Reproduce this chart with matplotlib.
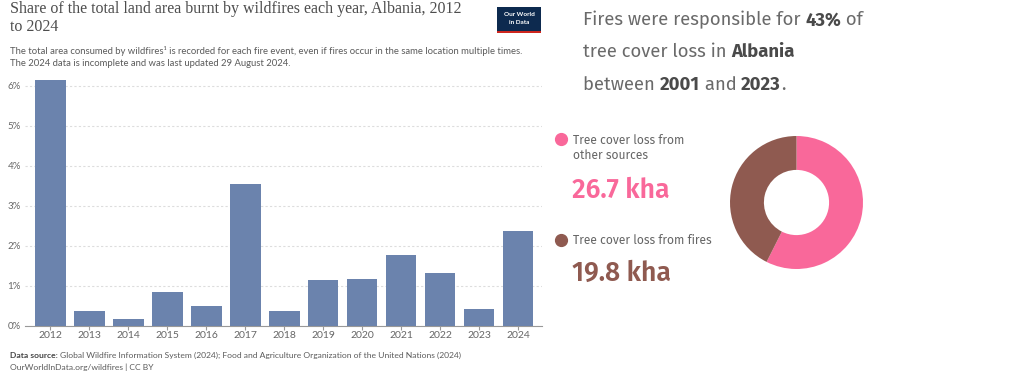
import matplotlib.pyplot as plt
from matplotlib.patches import Rectangle
from matplotlib.lines import Line2D
import numpy as np

years = [2012, 2013, 2014, 2015, 2016, 2017, 2018, 2019, 2020, 2021, 2022, 2023, 2024]
share_burnt = [6.14, 0.38, 0.16, 0.85, 0.50, 3.55, 0.37, 1.14, 1.18, 1.76, 1.31, 0.43, 2.38]
y_ticks = [0, 1, 2, 3, 4, 5, 6]

loss_labels = ['Tree cover loss from\nother sources', 'Tree cover loss from fires']
loss_kha = [26.7, 19.8]
fire_share = 43

W, H = 1024, 380
fig = plt.figure(figsize=(W / 100, H / 100), dpi=100)
lato = ['Lato', 'DejaVu Sans']
rfont = ['Fira Sans', 'Open Sans', 'DejaVu Sans']


def px(x, y):
    return x / W, 1 - y / H


# bar chart panel
ax = fig.add_axes([25 / W, 1 - 325.7 / H, (541.7 - 25) / W, 248 / H])
x = np.arange(len(years))
ax.bar(x, share_burnt, width=0.79, color='#6b83ad', zorder=3)
ax.set_xlim(-0.65, 12.61)
ax.set_ylim(0, 6.2)
ax.set_yticks(y_ticks)
ax.set_yticklabels([f'{t}%' for t in y_ticks])
ax.set_xticks(x)
ax.set_xticklabels([str(y) for y in years])
ax.tick_params(axis='y', length=0, pad=3, labelsize=7, labelcolor='#666666')
ax.tick_params(axis='x', length=3, color='#999999', pad=1, labelsize=7.5, labelcolor='#666666')
ax.grid(axis='y', color='#dddddd', linestyle=(0, (2, 2)), linewidth=0.8, zorder=0)
for s in ['top', 'right', 'left']:
    ax.spines[s].set_visible(False)
ax.spines['bottom'].set_color('#999999')
for lbl in ax.get_xticklabels() + ax.get_yticklabels():
    lbl.set_family(lato)

fig.canvas.draw()
renderer = fig.canvas.get_renderer()


def rich_line(x0, y0, parts, size, family, colors):
    xf, yf = px(x0, y0)
    for txt, bold in parts:
        t = fig.text(xf, yf, txt, fontsize=size, color=colors[bold], va='center',
                     family=family, weight='bold' if bold else 'normal')
        bb = t.get_window_extent(renderer=renderer)
        xf += bb.width / W


# titles and notes
fig.text(*px(10, 18), 'Share of the total land area burnt by wildfires each year, Albania, 2012\nto 2024',
         family=['Liberation Serif', 'DejaVu Serif'], fontsize=11.5, color='#4d4d4d', va='center',
         linespacing=1.1)
fig.text(*px(10, 57), 'The total area consumed by wildfires\u00b9 is recorded for each fire event, even if fires occur in the same location multiple times.\n'
         'The 2024 data is incomplete and was last updated 29 August 2024.',
         family=lato, fontsize=6.8, color='#5b5b5b', va='center', linespacing=1.3)
rich_line(10, 355, [('Data source: ', True),
                    ('Global Wildfire Information System (2024); Food and Agriculture Organization of the United Nations (2024)', False)],
          6.1, lato, {True: '#444444', False: '#5b5b5b'})
fig.text(*px(10, 367), 'OurWorldInData.org/wildfires | CC BY', family=lato,
         fontsize=6.1, color='#5b5b5b', va='center')

# OWID logo
fig.patches.append(Rectangle(px(497, 33), 44 / W, 26 / H, transform=fig.transFigure,
                             facecolor='#0d2a4f', edgecolor='none'))
fig.patches.append(Rectangle(px(497, 33), 44 / W, 2 / H, transform=fig.transFigure,
                             facecolor='#ce261e', edgecolor='none'))
fig.text(*px(519, 15), 'Our World', ha='center', va='center', color='white',
         fontsize=4.6, weight='bold', family=lato)
fig.text(*px(519, 23), 'in Data', ha='center', va='center', color='white',
         fontsize=4.6, weight='bold', family=lato)

# right panel text with bold pieces
head_cols = {False: '#6a6a6a', True: '#4a4a4a'}
rich_line(583, 20, [('Fires were responsible for ', False), (f'{fire_share}%', True), (' of', False)],
          13.3, rfont, head_cols)
rich_line(583, 52, [('tree cover loss in ', False), ('Albania', True)], 13.3, rfont, head_cols)
rich_line(583, 85, [('between ', False), ('2001', True), (' and ', False), ('2023', True), ('.', False)],
          13.3, rfont, head_cols)

colors = ['#f9689a', '#8f5a50']
legend_y = [148, 240]
value_y = [190, 273]
for lbl, val, col, ly, vy in zip(loss_labels, loss_kha, colors, legend_y, value_y):
    dot_y = ly - (9 if '\n' in lbl else 0)
    fig.add_artist(Line2D([561 / W], [1 - dot_y / H], marker='o', markersize=8.5,
                          color=col, transform=fig.transFigure, linestyle='none'))
    fig.text(*px(573, ly), lbl, fontsize=8.7, color='#666666', va='center', family=rfont,
             linespacing=1.3)
    fig.text(*px(572, vy), f'{val} kha', fontsize=19, color=col, va='center', family=rfont,
             weight='semibold')

# donut
dax = fig.add_axes([(796.5 - 66.5) / W, 1 - (202.5 + 66.5) / H, 133 / W, 133 / H])
dax.pie(loss_kha, colors=colors, startangle=90, counterclock=False,
        wedgeprops=dict(width=0.51, edgecolor='none'))
dax.set_xlim(-1, 1)
dax.set_ylim(-1, 1)
dax.set_aspect('equal')

fig.savefig('out.png', dpi=100)
